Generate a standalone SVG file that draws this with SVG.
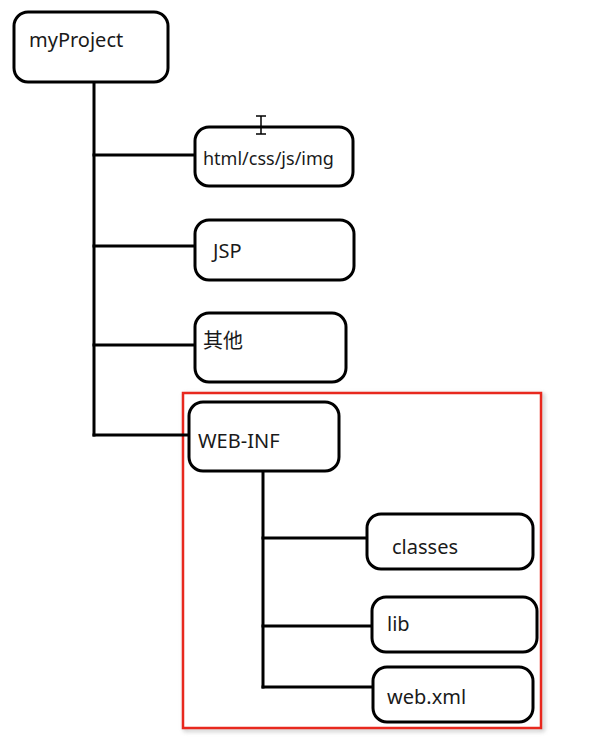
<svg xmlns="http://www.w3.org/2000/svg" width="611" height="756" viewBox="0 0 611 756">
  <defs>
    <filter id="shadow" x="-5%" y="-5%" width="110%" height="110%">
      <feGaussianBlur stdDeviation="2"/>
    </filter>
  </defs>
  <style>
    .box { fill: #ffffff; stroke: #000000; stroke-width: 3; }
    .wire { fill: none; stroke: #000000; stroke-width: 3; stroke-linecap: square; }
    .label { font-family: "Noto Sans", "Noto Sans CJK SC", sans-serif; font-size: 20px; fill: #1a1a1a; }
    .small { font-size: 18px; }
  </style>
  <rect width="611" height="756" fill="#ffffff"/>

  <!-- highlight frame around WEB-INF -->
  <g id="webinf-frame">
    <rect x="185" y="395" width="358" height="335" fill="none" stroke="#999999" stroke-width="3" opacity="0.6" filter="url(#shadow)"/>
    <rect x="183" y="393" width="358" height="335" fill="#ffffff" stroke="#e8281e" stroke-width="2.5"/>
  </g>

  <!-- connectors -->
  <g id="connectors">
    <path class="wire" d="M94 82 V435"/>
    <path class="wire" d="M94 155 H195"/>
    <path class="wire" d="M94 246 H195"/>
    <path class="wire" d="M94 345 H195"/>
    <path class="wire" d="M94 435 H189"/>
    <path class="wire" d="M263 471 V687"/>
    <path class="wire" d="M263 538 H367"/>
    <path class="wire" d="M263 626 H372"/>
    <path class="wire" d="M263 687 H373"/>
  </g>

  <g id="myProject">
    <rect class="box" x="14" y="12" width="154" height="70" rx="14"/>
    <text class="label" x="29" y="47">myProject</text>
  </g>
  <g id="static">
    <rect class="box" x="195" y="127" width="158" height="59" rx="14"/>
    <text class="label small" x="203" y="165">html/css/js/img</text>
  </g>
  <g id="jsp">
    <rect class="box" x="195" y="220" width="159" height="60" rx="14"/>
    <text class="label" x="213" y="258">JSP</text>
  </g>
  <g id="other">
    <rect class="box" x="195" y="313" width="151" height="69" rx="14"/>
    <text class="label" x="203" y="348">其他</text>
  </g>
  <g id="webinf">
    <rect class="box" x="189" y="402" width="150" height="69" rx="14"/>
    <text class="label" x="198" y="448">WEB-INF</text>
  </g>
  <g id="classes">
    <rect class="box" x="367" y="514" width="166" height="55" rx="14"/>
    <text class="label" x="392" y="554">classes</text>
  </g>
  <g id="lib">
    <rect class="box" x="372" y="597" width="165" height="55" rx="14"/>
    <text class="label" x="387" y="631">lib</text>
  </g>
  <g id="webxml">
    <rect class="box" x="373" y="667" width="160" height="55" rx="14"/>
    <text class="label" x="387" y="704">web.xml</text>
  </g>

  <!-- text cursor -->
  <g id="cursor" stroke="#000000" stroke-width="1.5" fill="none">
    <path d="M256 116 H266 M261 116 V134 M256 134 H266"/>
  </g>
</svg>
